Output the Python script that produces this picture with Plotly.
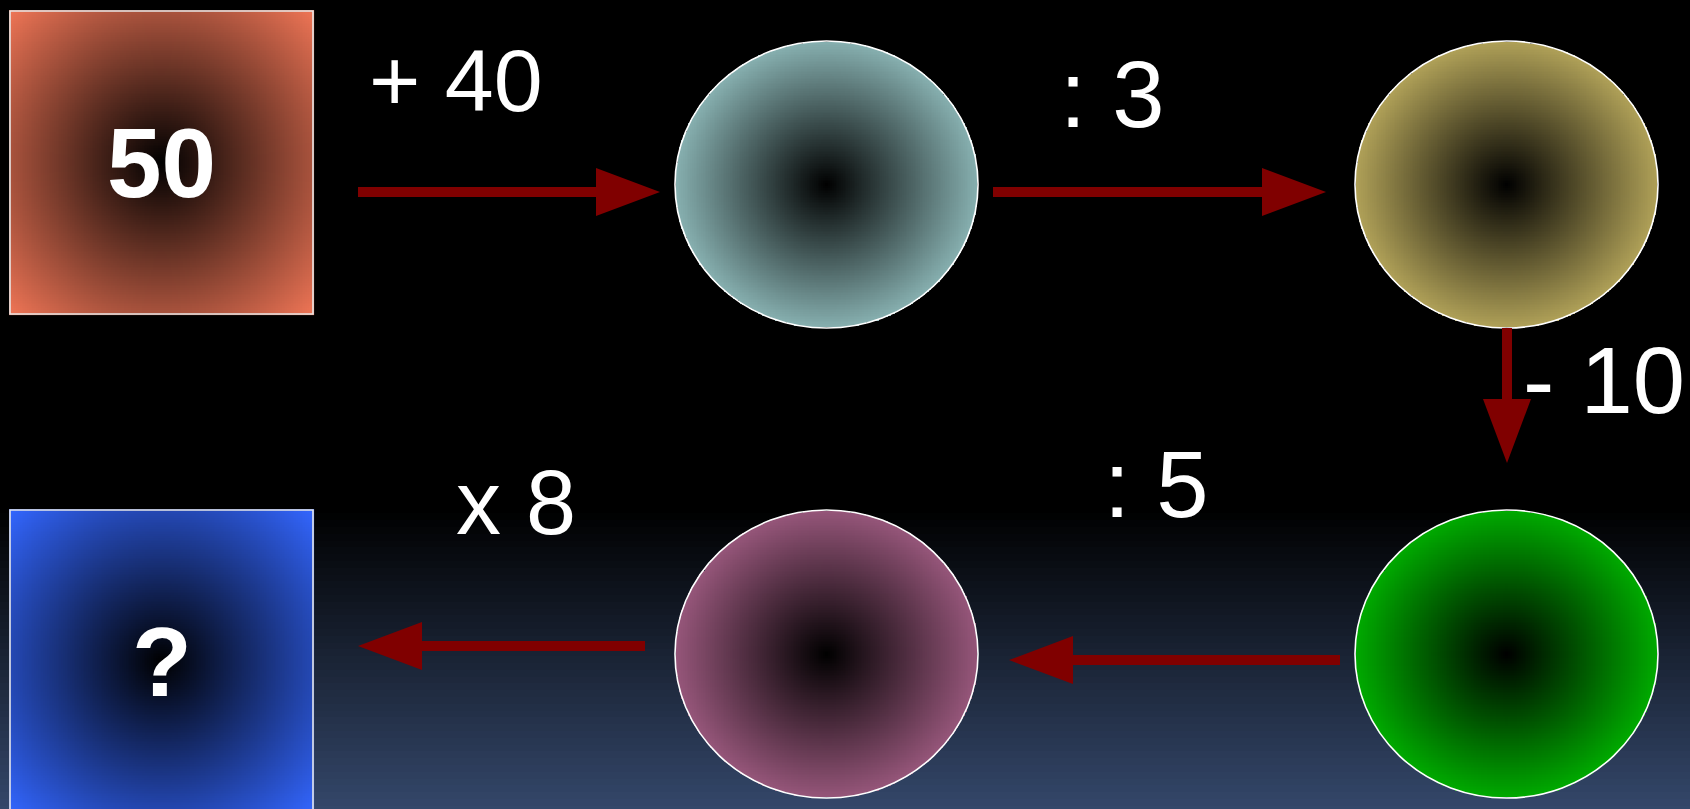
import numpy as np
import plotly.graph_objects as go

W, H = 1690, 809

# values shown in the diagram
start_value = "50"
result_label = "?"
operations = ["+ 40", ": 3", "- 10", ": 5", "x 8"]
op_sizes = [88, 94, 94, 94, 90]

node_kind = ["square", "circle", "circle", "circle", "circle", "square"]
node_colors = ["#ef7556", "#87b0b0", "#b0a158", "#00aa00", "#96567a", "#3366ff"]
node_labels = [start_value, "", "", "", "", result_label]

# geometry in pixels, origin top-left
node_box = [
    (10, 11, 313, 314),
    (675, 41, 978, 328),
    (1355, 41, 1658, 328),
    (1355, 510, 1658, 798),
    (675, 510, 978, 798),
    (10, 510, 313, 813),
]
arrow_path = [
    ((358, 192), (660, 192)),
    ((993, 192), (1326, 192)),
    ((1507, 328), (1507, 463)),
    ((1340, 660), (1009, 660)),
    ((645, 646), (358, 646)),
]
op_pos = [(456, 80), (1112, 94), (1604, 380), (1156, 484), (516, 503)]

fig = go.Figure()

# background: black fading to dark blue near the bottom
bg_y = np.linspace(0, H, 120)
fig.add_trace(go.Heatmap(
    x=[0, W], y=bg_y, z=np.column_stack([bg_y / H, bg_y / H]),
    colorscale=[[0, "black"], [0.63, "black"], [1, "#34476a"]],
    zmin=0, zmax=1, showscale=False, hoverinfo="skip",
))

# nodes with radial gradients
n = 170
for kind, col, (x0, y0, x1, y1) in zip(node_kind, node_colors, node_box):
    cx, cy = (x0 + x1) / 2, (y0 + y1) / 2
    hx, hy = (x1 - x0) / 2, (y1 - y0) / 2
    xs = np.linspace(x0, x1, n)
    ys = np.linspace(y0, y1, n)
    X, Y = np.meshgrid(xs, ys)
    if kind == "circle":
        z = np.sqrt(((X - cx) / hx) ** 2 + ((Y - cy) / hy) ** 2)
        z[z > 1] = np.nan
    else:
        z = np.sqrt((X - cx) ** 2 + (Y - cy) ** 2) / np.hypot(hx, hy)
    fig.add_trace(go.Heatmap(
        x=xs, y=ys, z=z, colorscale=[[0, "black"], [1, col]],
        zmin=0, zmax=1, showscale=False, hoverinfo="skip",
    ))
    fig.add_shape(
        type="circle" if kind == "circle" else "rect",
        x0=x0, y0=y0, x1=x1, y1=y1,
        line=dict(color="white" if kind == "circle" else "#e6e6e6", width=1.6),
    )

# arrows
shaft, head_len, head_w = 5, 64, 24
for (sx, sy), (tx, ty) in arrow_path:
    d = np.array([tx - sx, ty - sy], dtype=float)
    d /= np.linalg.norm(d)
    nv = np.array([-d[1], d[0]])
    s = np.array([sx, sy]); t = np.array([tx, ty])
    b = t - d * head_len
    pts = [s + nv * shaft, b + nv * shaft, b + nv * head_w, t,
           b - nv * head_w, b - nv * shaft, s - nv * shaft]
    path = "M " + " L ".join(f"{p[0]:.1f},{p[1]:.1f}" for p in pts) + " Z"
    fig.add_shape(type="path", path=path, fillcolor="#800000", line=dict(width=0))

# labels
for lab, (x0, y0, x1, y1) in zip(node_labels, node_box):
    if lab:
        fig.add_annotation(
            x=(x0 + x1) / 2, y=(y0 + y1) / 2, text=f"<b>{lab}</b>", showarrow=False,
            font=dict(family="Liberation Sans, Arial", size=98, color="white"),
        )
for op, size, (x, y) in zip(operations, op_sizes, op_pos):
    fig.add_annotation(
        x=x, y=y, text=op, showarrow=False,
        font=dict(family="Liberation Sans, Arial", size=size, color="white"),
    )

fig.update_layout(
    width=W, height=H,
    margin=dict(l=0, r=0, t=0, b=0),
    paper_bgcolor="black", plot_bgcolor="black",
    xaxis=dict(range=[0, W], visible=False, fixedrange=True),
    yaxis=dict(range=[H, 0], visible=False, fixedrange=True),
    showlegend=False,
)

fig.write_html(
    "out.html",
    config={"displayModeBar": False},
    post_script="document.body.style.margin='0';document.body.style.overflow='hidden';",
)
